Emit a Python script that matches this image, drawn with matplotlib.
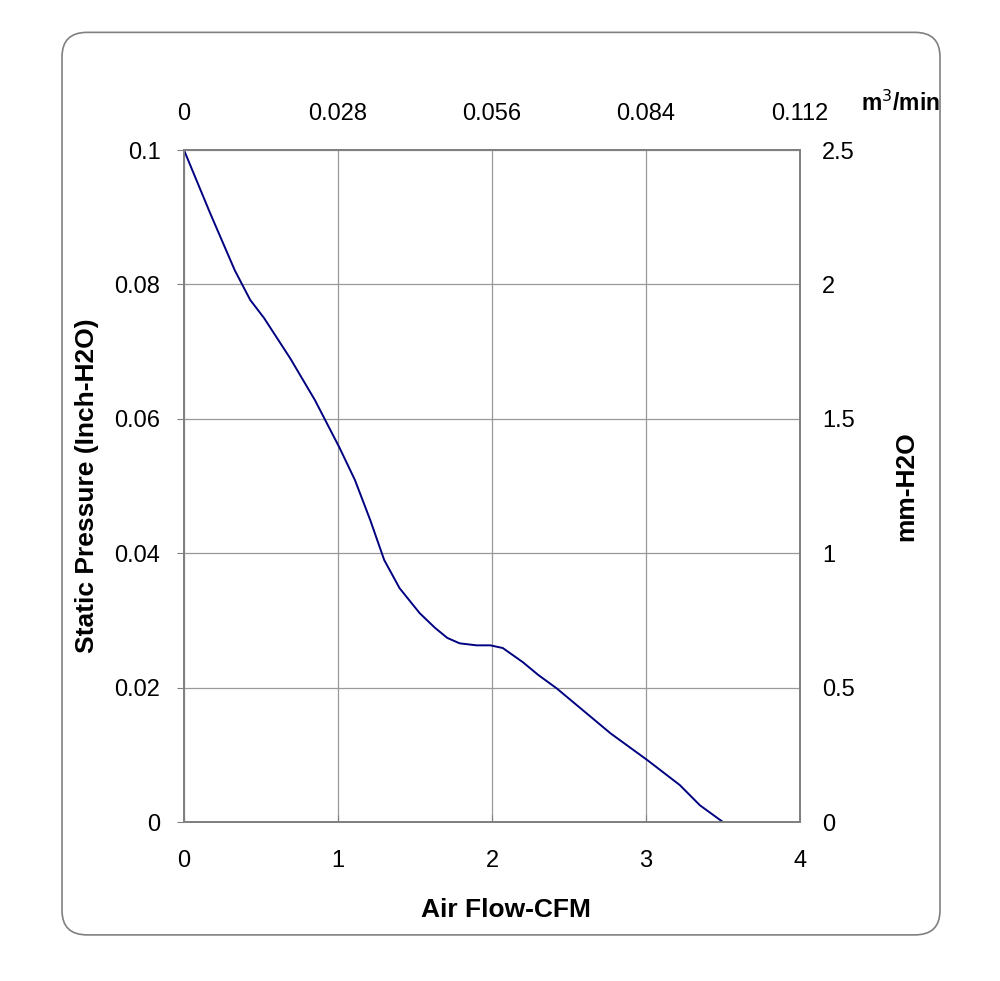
import numpy as np
import matplotlib.pyplot as plt
from matplotlib.patches import FancyBboxPatch

plt.rcParams['font.family'] = ['Liberation Sans', 'DejaVu Sans']

# air flow (CFM) vs static pressure (inch H2O)
cfm = [0, 0.17, 0.33, 0.43, 0.52, 0.69, 0.85, 1.01, 1.11, 1.21, 1.30, 1.40,
       1.53, 1.63, 1.71, 1.79, 1.90, 1.99, 2.07, 2.20, 2.30, 2.42, 2.77,
       3.01, 3.22, 3.35, 3.50]
pressure = [0.1, 0.0906, 0.0821, 0.0777, 0.075, 0.069, 0.0628, 0.0557,
            0.0509, 0.0449, 0.039, 0.0348, 0.0311, 0.0289, 0.0274, 0.0266,
            0.0263, 0.0263, 0.0259, 0.0238, 0.0219, 0.0199, 0.0132, 0.0092,
            0.0055, 0.0025, 0.0]

x_ticks = [0, 1, 2, 3, 4]
y_ticks = [0, 0.02, 0.04, 0.06, 0.08, 0.1]
y_labels = ['0', '0.02', '0.04', '0.06', '0.08', '0.1']
top_labels = ['0', '0.028', '0.056', '0.084', '0.112']
right_ticks = [0, 0.5, 1, 1.5, 2, 2.5]
right_labels = ['0', '0.5', '1', '1.5', '2', '2.5']

axis_grey = '#808080'
tick_fs = 17
label_fs = 19

fig = plt.figure(figsize=(10, 9.81), dpi=100)

# rounded frame
box = FancyBboxPatch((0.062, 0.047), 0.878, 0.92,
                     boxstyle='round,pad=0,rounding_size=0.025',
                     transform=fig.transFigure, fill=False,
                     edgecolor=axis_grey, linewidth=1.2)
fig.patches.append(box)

ax = fig.add_axes([0.184, 0.162, 0.616, 0.685])
ax.plot(cfm, pressure, color='#000080', linewidth=1.4, zorder=3)
ax.set_xlim(0, 4)
ax.set_ylim(0, 0.1)
ax.set_xticks(x_ticks)
ax.set_xticklabels([str(v) for v in x_ticks])
ax.set_yticks(y_ticks)
ax.set_yticklabels(y_labels)
ax.grid(True, color='#999999', linewidth=0.9)
ax.tick_params(axis='x', direction='in', length=5, pad=20, labelsize=tick_fs, color=axis_grey)
ax.tick_params(axis='y', direction='out', length=5, pad=12, labelsize=tick_fs, color=axis_grey)
ax.set_xlabel('Air Flow-CFM', fontsize=label_fs, fontweight='bold', labelpad=19, x=0.523)
ax.set_ylabel('Static Pressure (Inch-H2O)', fontsize=label_fs, fontweight='bold', labelpad=11)

top = ax.twiny()
top.set_xlim(0, 4)
top.set_xticks(x_ticks)
top.set_xticklabels(top_labels)
top.tick_params(axis='x', length=0, pad=18, labelsize=tick_fs)

right = ax.twinx()
right.set_ylim(0, 2.5)
right.set_yticks(right_ticks)
right.set_yticklabels(right_labels)
right.tick_params(axis='y', length=0, pad=16, labelsize=tick_fs)
right.set_ylabel('mm-H2O', fontsize=label_fs, fontweight='bold', labelpad=28)

for a in (ax, top, right):
    for s in a.spines.values():
        s.set_color(axis_grey)
        s.set_linewidth(1.1)

fig.text(0.9, 0.895, 'm$^3$/min', fontsize=16.5, fontweight='bold',
         ha='center', va='center')

fig.savefig('out.png', dpi=100)
